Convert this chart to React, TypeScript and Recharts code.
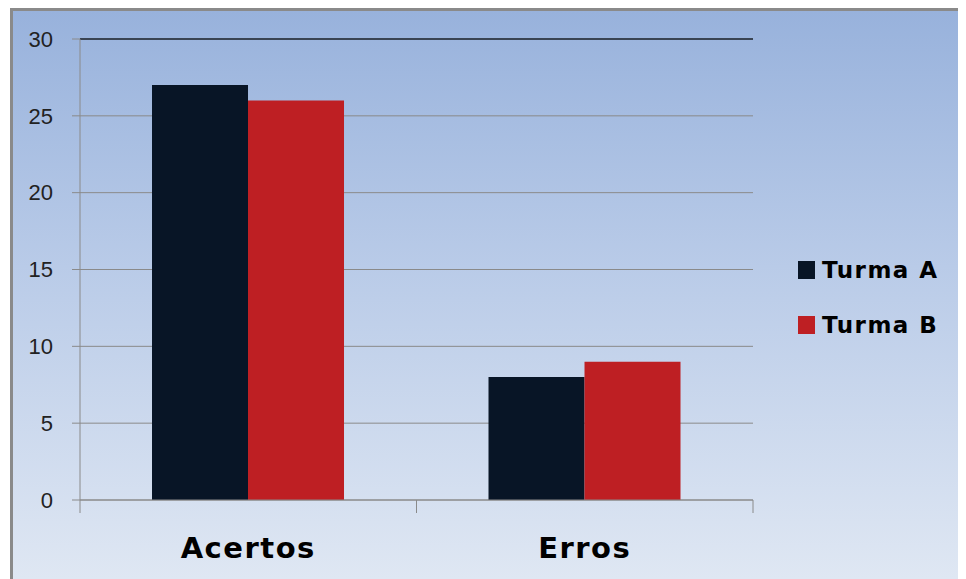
import { BarChart, Bar, XAxis, YAxis, CartesianGrid, ReferenceLine } from "recharts";

const categorias = ["Acertos", "Erros"];
const turmaA = [27, 8];
const turmaB = [26, 9];
const ticksY = [0, 5, 10, 15, 20, 25, 30];
const series = ["Turma A", "Turma B"];

const dados = categorias.map((nome, i) => ({
  nome,
  "Turma A": turmaA[i],
  "Turma B": turmaB[i],
}));

const CORES: Record<string, string> = { "Turma A": "#081526", "Turma B": "#be1f23" };

// rótulo da categoria + traços nas divisas entre categorias (estilo Excel)
function TickCategoria(props: any) {
  const { x, y, payload } = props;
  const meio = payload.offset ?? 0;
  return (
    <g>
      <line x1={x - meio} y1={y} x2={x - meio} y2={y + 13} stroke="#8a8a8a" />
      <line x1={x + meio} y1={y} x2={x + meio} y2={y + 13} stroke="#8a8a8a" />
      <text
        x={x}
        y={y + 58}
        textAnchor="middle"
        fontFamily="DejaVu Sans"
        fontWeight="bold"
        fontSize={29}
        letterSpacing={1.5}
        fill="#000"
      >
        {payload.value}
      </text>
    </g>
  );
}

export default function App() {
  return (
    <div
      style={{
        position: "relative",
        marginLeft: 2,
        width: 953,
        height: 568,
        borderTop: "3px solid #8a8a8a",
        borderLeft: "3px solid #8a8a8a",
        background: "linear-gradient(to bottom, #98b2dc 0%, #b9cbe8 45%, #dfe7f3 100%)",
      }}
    >
      <BarChart
        width={953}
        height={568}
        data={dados}
        margin={{ top: 28, right: 213, bottom: 0, left: 0 }}
        barCategoryGap="21.4%"
        barGap={0}
      >
        <CartesianGrid vertical={false} stroke="#8a8a8a" />
        <XAxis
          dataKey="nome"
          height={79}
          tickSize={0}
          tickMargin={0}
          tickLine={false}
          axisLine={{ stroke: "#8a8a8a" }}
          tick={<TickCategoria />}
          interval={0}
        />
        <YAxis
          width={67}
          domain={[0, 30]}
          ticks={ticksY}
          tickSize={8}
          tickMargin={19}
          axisLine={{ stroke: "#8a8a8a" }}
          tickLine={{ stroke: "#8a8a8a" }}
          tick={{ fontFamily: "Liberation Sans", fontSize: 22, fill: "#222" }}
        />
        <YAxis
          yAxisId="borda"
          orientation="right"
          width={0}
          tick={false}
          tickLine={false}
          axisLine={{ stroke: "#1c2633", strokeWidth: 1.5 }}
        />
        <ReferenceLine y={30} stroke="#1c2633" strokeWidth={1.5} />
        <Bar dataKey="Turma A" fill={CORES["Turma A"]} isAnimationActive={false} />
        <Bar dataKey="Turma B" fill={CORES["Turma B"]} isAnimationActive={false} />
      </BarChart>
      <div style={{ position: "absolute", left: 785, top: 231 }}>
        {series.map((s) => (
          <div key={s} style={{ display: "flex", alignItems: "center", height: 55 }}>
            <span style={{ width: 17, height: 18, background: CORES[s], marginRight: 7 }} />
            <span
              style={{
                fontFamily: "DejaVu Sans",
                fontWeight: "bold",
                fontSize: 23,
                letterSpacing: 1.5,
                color: "#000",
              }}
            >
              {s}
            </span>
          </div>
        ))}
      </div>
    </div>
  );
}
